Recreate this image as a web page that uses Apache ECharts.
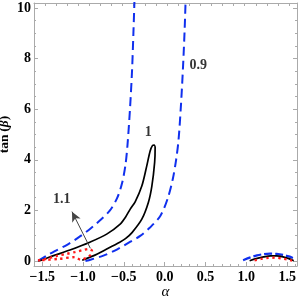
<!DOCTYPE html>
<html><head><meta charset="utf-8">
<script src="https://cdn.jsdelivr.net/npm/echarts@6/dist/echarts.min.js"></script>
<style>html,body{margin:0;padding:0;background:#fff}#c{width:299px;height:302px}</style>
</head><body><div id="c"></div>
<script>
// tick labels
const xTickLabels = [-1.5, -1.0, -0.5, 0.0, 0.5, 1.0, 1.5];
const yTickLabels = [0, 2, 4, 6, 8, 10];

// contour 0.9 (blue dashed) - left branch
const blueLeft = [[-1.55,0.0],[-1.45,0.2],[-1.35,0.38],[-1.2,0.63],[-1.05,0.94],[-0.9,1.3],[-0.78,1.64],[-0.67,2.0],[-0.58,2.5],[-0.52,3.1],[-0.48,3.8],[-0.455,4.6],[-0.425,6.0],[-0.40,7.5],[-0.383,9.0],[-0.368,10.5]];
// contour 0.9 - right branch
const blueRight = [[-0.97,0.0],[-0.9,0.06],[-0.75,0.21],[-0.58,0.46],[-0.42,0.76],[-0.3,0.99],[-0.18,1.32],[-0.05,1.8],[0.04,2.5],[0.1,3.25],[0.14,4.0],[0.17,4.8],[0.2,6.2],[0.225,7.7],[0.245,9.2],[0.258,10.5]];
// contour 0.9 - small arc near alpha ~ 1.3
const blueArc = [[0.96,0.03],[1.05,0.14],[1.13,0.22],[1.21,0.27],[1.29,0.29],[1.37,0.28],[1.45,0.24],[1.52,0.18],[1.57,0.12]];
// contour 1 (black) - loop
const blackLoop = [[-1.55,0.0],[-1.5,0.04],[-1.37,0.2],[-1.16,0.43],[-0.91,0.75],[-0.71,1.06],[-0.545,1.46],[-0.48,1.73],[-0.42,2.06],[-0.36,2.35],[-0.28,2.96],[-0.22,3.75],[-0.178,4.35],[-0.15,4.56],[-0.13,4.58],[-0.117,4.49],[-0.123,3.9],[-0.157,2.96],[-0.2,2.31],[-0.28,1.65],[-0.4,1.12],[-0.48,0.88],[-0.55,0.74],[-0.71,0.47],[-0.876,0.2],[-1.01,0.03]];
// contour 1 - small arc
const blackArc = [[1.04,0.01],[1.12,0.09],[1.21,0.16],[1.3,0.2],[1.37,0.2],[1.45,0.16],[1.52,0.09],[1.58,0.01]];
// contour 1.1 (red dotted)
const redLoop = [[-1.55,0.02],[-1.45,0.08],[-1.32,0.2],[-1.2,0.28],[-1.1,0.35],[-1.0,0.43],[-0.93,0.47],[-0.89,0.4],[-0.9,0.26],[-0.95,0.14],[-1.03,0.05],[-1.1,0.15],[-1.3,0.08],[-1.55,0.02]];
const redArc = [[1.1,0.02],[1.18,0.08],[1.27,0.12],[1.35,0.13],[1.43,0.1],[1.5,0.06],[1.56,0.01]];

// contour labels
const labelNames = ['0.9', '1', '1.1'];
const labelPos = [[0.41, 7.72], [-0.2, 5.08], [-1.26, 2.44]];
const arrowFrom = [-0.91, 0.5];
const arrowTo = [-1.135, 1.95];

const frame = '#aaaaaa';
const serif = '"Liberation Serif", "DejaVu Serif", serif';
const XMIN = -1.6, XMAX = 1.62, YMIN = -0.2, YMAX = 10.2;

function steps(a, b, s) { const r = []; for (let v = a; v <= b + 1e-9; v += s) r.push(Math.round(v * 1000) / 1000); return r; }
const xMinor = steps(-1.6, 1.6, 0.1);
const yMinor = steps(0, 10, 0.5);
const topTicks = steps(-1.465, 1.6, 0.1358);

function fmtX(v) { const s = Math.abs(v).toFixed(1); return v < -1e-9 ? '\u2212' + s : s; }

const labelStyle = { fontFamily: serif, fontWeight: 'bold', fontSize: 14, color: '#000' };

function xa(pos, ticks, len, labels) {
  return {
    type: 'value', position: pos, min: XMIN, max: XMAX,
    axisLine: { show: !!labels, onZero: false, lineStyle: { color: frame, width: 1 } },
    axisTick: { show: true, inside: true, length: len, customValues: ticks, lineStyle: { color: frame } },
    axisLabel: labels ? Object.assign({ customValues: labels, formatter: fmtX, margin: 4 }, labelStyle) : { show: false },
    splitLine: { show: false }
  };
}
function ya(pos, ticks, len, labels) {
  return {
    type: 'value', position: pos, min: YMIN, max: YMAX,
    axisLine: { show: !!labels, onZero: false, lineStyle: { color: frame, width: 1 } },
    axisTick: { show: true, inside: true, length: len, customValues: ticks, lineStyle: { color: frame } },
    axisLabel: labels ? Object.assign({ customValues: labels, formatter: v => String(Math.round(v)), margin: 3 }, labelStyle) : { show: false },
    splitLine: { show: false }
  };
}

const xAxes = [
  xa('bottom', xTickLabels, 4, xTickLabels),
  xa('bottom', xMinor, 2, null),
  xa('top', topTicks, 3, null),
];
xAxes[0].name = 'α';
xAxes[0].nameLocation = 'middle';
xAxes[0].nameGap = 19;
xAxes[0].nameMoveOverlap = false;
xAxes[0].nameTextStyle = { fontFamily: serif, fontStyle: 'italic', fontSize: 15, color: '#000' };
xAxes[2].axisLine.show = true;
xAxes[2].axisLabel = { show: false };

const yAxes = [
  ya('left', yTickLabels, 4, yTickLabels),
  ya('left', yMinor, 2, null),
  ya('right', yTickLabels, 4, null),
  ya('right', yMinor, 2, null),
];
yAxes[0].name = '{n|tan\u2009(}{i|β}{n|)}';
yAxes[0].nameLocation = 'middle';
yAxes[0].nameGap = 22;
yAxes[0].nameRotate = 90;
yAxes[0].nameMoveOverlap = false;
yAxes[0].nameTextStyle = { lineHeight: 14, rich: {
  n: { fontFamily: serif, fontWeight: 'bold', fontSize: 13.5, color: '#000', lineHeight: 14 },
  i: { fontFamily: serif, fontStyle: 'italic', fontWeight: 'bold', fontSize: 13.5, color: '#000', lineHeight: 14 }
} };
yAxes[2].axisLine.show = true;

function lineSeries(data, color, width, type) {
  return { type: 'line', xAxisIndex: 0, yAxisIndex: 0, data: data, symbol: 'none', smooth: 0.3, clip: true,
    lineStyle: { color: color, width: width, type: type, cap: 'butt' }, z: 3 };
}
const BLUE = '#1030ee';
const series = [
  lineSeries(blueLeft, BLUE, 2, [9, 5]),
  lineSeries(blueRight, BLUE, 2, [9, 5]),
  lineSeries(blueArc, BLUE, 2.2, [8, 3]),
  lineSeries(blackLoop, '#000', 1.7, 'solid'),
  lineSeries(blackArc, '#000', 1.7, 'solid'),
  lineSeries(redLoop, '#ff1a1a', 2.4, [2.4, 3.6]),
  lineSeries(redArc, '#ff1a1a', 2.4, [2.4, 3.6]),
  {
    type: 'scatter', xAxisIndex: 0, yAxisIndex: 0, symbolSize: 0,
    data: labelPos.map((p, i) => ({ value: p, name: labelNames[i] })),
    label: { show: true, position: 'inside', formatter: p => p.name, fontFamily: serif, fontWeight: 'bold', fontSize: 14, color: '#000' },
    markLine: {
      silent: true, animation: false, symbol: ['none', 'arrow'], symbolSize: [7, 10],
      lineStyle: { color: '#444', width: 1, type: 'solid' }, label: { show: false },
      data: [[{ coord: arrowFrom }, { coord: arrowTo }]]
    }, z: 4
  }
];

const chart = echarts.init(document.getElementById('c'), null, { renderer: 'canvas' });
chart.setOption({
  animation: false,
  backgroundColor: '#fff',
  grid: { left: 34, right: 2, top: 3, bottom: 36, containLabel: false, outerBoundsMode: 'none' },
  xAxis: xAxes,
  yAxis: yAxes,
  series: series
});
</script>
</body></html>
